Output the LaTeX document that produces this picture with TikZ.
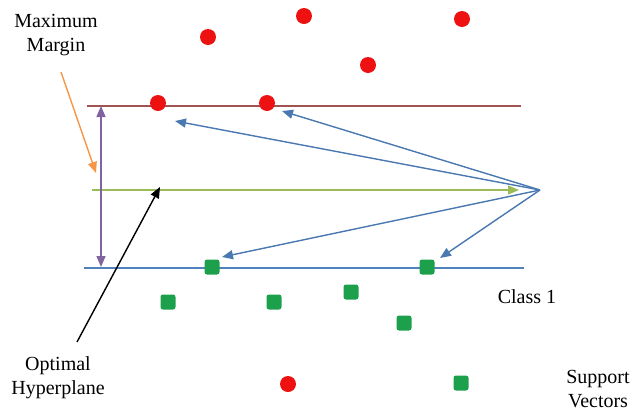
\documentclass[tikz,border=0pt]{standalone}
\usepackage{fontspec}
\setmainfont{Liberation Serif}
\usetikzlibrary{arrows.meta}
\definecolor{dotred}{HTML}{EE1111}
\definecolor{sqgreen}{HTML}{1CA04C}
\definecolor{linered}{HTML}{A05452}
\definecolor{lineblue}{HTML}{4F81BD}
\definecolor{linegreen}{HTML}{9BBB59}
\definecolor{linepurple}{HTML}{8064A2}
\definecolor{lineorange}{HTML}{F79646}
\definecolor{arrowblue}{HTML}{4A78B0}
\tikzset{
  reddot/.style={circle,fill=dotred,inner sep=0pt,minimum size=16pt},
  greensq/.style={rectangle,rounded corners=2.5pt,fill=sqgreen,inner sep=0pt,minimum size=15pt},
  lbl/.style={inner sep=0pt,align=center,font=\fontsize{20}{24}\selectfont},
  tri/.style={-{Triangle[length=11pt,width=9pt]}},
  svarrow/.style={tri,draw=arrowblue,fill=arrowblue,line width=1.4pt},
  margline/.style={line width=1.4pt}
}
\begin{document}
\begin{tikzpicture}[x=1pt,y=-1pt]
\useasboundingbox (0,0) rectangle (633,413);
% coordinates
\coordinate (rl1) at (87,106);
\coordinate (rl2) at (521,106);
\coordinate (gl1) at (92,190);
\coordinate (gl2) at (519,190);
\coordinate (bl1) at (84,268);
\coordinate (bl2) at (524,268);
\coordinate (pu1) at (101,267);
\coordinate (pu2) at (101,106);
\coordinate (apex) at (540,190);
\coordinate (t1) at (175,121);
\coordinate (t2) at (282,111);
\coordinate (t3) at (222,257);
\coordinate (t4) at (440,258);
\coordinate (or1) at (61,72);
\coordinate (or2) at (96,173);
\coordinate (bk1) at (77,342);
\coordinate (bk2) at (160,187);
% lines
\draw[margline,draw=linered] (rl1) -- (rl2);
\draw[margline,draw=lineblue] (bl1) -- (bl2);
\draw[margline,tri,draw=linegreen,fill=linegreen] (gl1) -- (gl2);
\draw[margline,{Triangle[length=11pt,width=9pt]}-{Triangle[length=11pt,width=9pt]},draw=linepurple,fill=linepurple] (pu1) -- (pu2);
\draw[margline,tri,draw=lineorange,fill=lineorange] (or1) -- (or2);
\draw[margline,tri,draw=black,fill=black] (bk1) -- (bk2);
\draw[svarrow] (apex) -- (t1);
\draw[svarrow] (apex) -- (t2);
\draw[svarrow] (apex) -- (t3);
\draw[svarrow] (apex) -- (t4);
% red dots
\node[reddot] (r1) at (208,37) {};
\node[reddot] (r2) at (304,16) {};
\node[reddot] (r3) at (462,19) {};
\node[reddot] (r4) at (368,65) {};
\node[reddot] (r5) at (158,103) {};
\node[reddot] (r6) at (267,103) {};
\node[reddot] (r7) at (288,384) {};
% green squares
\node[greensq] (g1) at (212,267) {};
\node[greensq] (g2) at (427,267) {};
\node[greensq] (g3) at (168,302) {};
\node[greensq] (g4) at (274,302) {};
\node[greensq] (g5) at (351,292) {};
\node[greensq] (g6) at (404,323) {};
\node[greensq] (g7) at (461,383) {};
% labels
\node[lbl,anchor=north] (mm) at (56,14) {Maximum\\Margin};
\node[lbl,anchor=north] (oh) at (58,356) {Optimal\\Hyperplane};
\node[lbl,anchor=base] (c1) at (527,303) {Class 1};
\node[lbl,anchor=north] (sv) at (598,370) {Support\\Vectors};
\end{tikzpicture}
\end{document}
